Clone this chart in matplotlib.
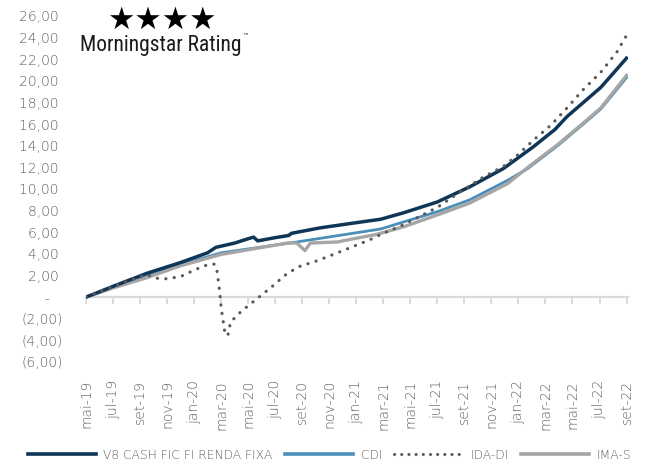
import matplotlib
matplotlib.use("Agg")
import matplotlib.pyplot as plt
from matplotlib import font_manager
from matplotlib.lines import Line2D

# ---- data (x = months since mai-19) ----
tick_labels = ["mai-19", "jul-19", "set-19", "nov-19", "jan-20", "mar-20", "mai-20",
               "jul-20", "set-20", "nov-20", "jan-21", "mar-21", "mai-21", "jul-21",
               "set-21", "nov-21", "jan-22", "mar-22", "mai-22", "jul-22", "set-22"]
tick_pos = [0, 2, 4, 6, 8, 10, 12, 14, 16, 18, 20, 22, 24, 26, 28, 30, 32, 34, 36, 38, 40]

v8_x = [0, 2, 4.5, 7, 9, 9.6, 10.3, 11, 12, 12.4, 12.7, 14, 15, 15.2, 17.3, 19.8,
        21.8, 23.5, 26, 28.4, 30.9, 33.1, 34.7, 35.6, 38.1, 40]
v8_y = [0, 1.0, 2.2, 3.2, 4.1, 4.6, 4.8, 5.0, 5.4, 5.55, 5.2, 5.5, 5.7, 5.9, 6.4, 6.85,
        7.2, 7.8, 8.8, 10.2, 11.9, 13.9, 15.5, 16.7, 19.4, 22.1]

cdi_x = [0, 2, 4.5, 7, 10, 15.6, 21.8, 23.5, 26, 28.4, 31.2, 32.7, 34.9, 36.8, 38.1, 40]
cdi_y = [0, 0.9, 1.9, 3.0, 4.1, 5.1, 6.3, 6.95, 7.9, 9.0, 10.8, 11.9, 14.0, 16.0, 17.4, 20.3]

ida_x = [0, 2, 4.5, 5, 5.5, 6, 7, 8, 9, 9.5, 9.65, 9.8, 9.9, 10.0, 10.3, 10.5, 10.7,
         11.5, 12.7, 13.7, 14.7, 15.7, 17.2, 19, 21, 22, 23.5, 26, 27.9, 29.4, 30.9,
         31.9, 33.1, 34.4, 35.6, 36.8, 38.1, 39.3, 40]
ida_y = [0, 1.0, 2.1, 1.8, 1.7, 1.7, 1.9, 2.5, 3.0, 3.05, 2.8, 1.4, 0.4, -1.0, -3.5, -3.5,
         -2.3, -1.3, -0.1, 0.9, 2.0, 2.8, 3.4, 4.3, 5.3, 5.9, 6.7, 8.3, 9.9, 11.1, 12.1,
         13.1, 14.5, 15.9, 17.5, 19.2, 20.8, 22.7, 24.2]

imas_x = [0, 2, 4.5, 7, 10, 14.9, 15.6, 16.2, 16.6, 18.6, 19.8, 21.5, 23.5, 26, 28.4,
          31.2, 32.7, 34.9, 36.8, 38.1, 40]
imas_y = [0, 0.85, 1.8, 2.9, 3.95, 5.0, 5.0, 4.3, 5.0, 5.1, 5.4, 5.8, 6.5, 7.6, 8.7,
          10.5, 12.0, 14.1, 16.1, 17.5, 20.5]

series_names = ["V8 CASH FIC FI RENDA FIXA", "CDI", "IDA-DI", "IMA-S"]
y_ticks = [-6, -4, -2, 0, 2, 4, 6, 8, 10, 12, 14, 16, 18, 20, 22, 24, 26]

# ---- style ----
C_V8 = "#0f3557"
C_CDI = "#4a8fb8"
C_IDA = "#5a5a5a"
C_IMAS = "#a6a6a6"

plt.rcParams["font.family"] = ["DejaVu Sans"]

BAD = ("bold", "semi", "black", "medium", "thin", "italic", "heavy", "oblique")


def _wnum(w):
    if isinstance(w, (int, float)):
        return w
    return font_manager.weight_dict.get(str(w).lower(), 400)


def find_face(names, want_cond, lo, hi):
    for nm in names:
        for f in font_manager.fontManager.ttflist:
            low = (f.name + " " + f.fname).lower()
            is_cond = ("condensed" in low or "narrow" in low
                       or "condensed" in str(f.stretch).lower())
            if f.style != "normal" or any(b in low for b in BAD):
                continue
            if nm and nm.lower() not in f.name.lower():
                continue
            if "mono" in low or "serif" in low:
                continue
            if is_cond != want_cond:
                continue
            if lo <= _wnum(f.weight) <= hi:
                return f.fname
    return None


light_file = find_face(["DejaVu Sans"], False, 100, 340)
TXT = "#5e5e5e" if light_file else "#7f7f7f"
cond_file = find_face(["Liberation Sans Narrow", "Roboto", "Open Sans", "DejaVu", ""],
                      True, 350, 450)


def lfp(size):
    if light_file:
        return font_manager.FontProperties(fname=light_file, size=size)
    return font_manager.FontProperties(family="DejaVu Sans", size=size)


def yfmt(v):
    if abs(v) < 1e-9:
        return "-   "
    s = f"{abs(v):.2f}".replace(".", ",")
    return f"({s})" if v < 0 else s + " "


fig = plt.figure(figsize=(6.52, 4.66), dpi=100)
ax = fig.add_axes([0.132, 0.2232, 0.831, 0.7425])

ax.plot(v8_x, v8_y, color=C_V8, lw=2.5, solid_joinstyle="round", zorder=4)
ax.plot(cdi_x, cdi_y, color=C_CDI, lw=2.0, zorder=3)
ax.plot(imas_x, imas_y, color=C_IMAS, lw=2.4, zorder=3.5)
ax.plot(ida_x, ida_y, color=C_IDA, lw=2.3, linestyle=(0, (0.05, 2.6)),
        dash_capstyle="round", zorder=5)

ax.set_xlim(0, 40.1)
ax.set_ylim(-6, 26)

for s in ["top", "right", "left"]:
    ax.spines[s].set_visible(False)
ax.spines["bottom"].set_position(("data", 0))
ax.spines["bottom"].set_color("#d9d9d9")
ax.spines["bottom"].set_linewidth(1.6)
ax.spines["bottom"].set_zorder(1)

ax.set_xticks(tick_pos)
ax.tick_params(axis="x", direction="out", length=5, width=1.3, color="#d9d9d9",
               labelbottom=False)

ax.set_yticks(y_ticks)
ax.set_yticklabels([yfmt(v) for v in y_ticks], fontproperties=lfp(10),
                   color=TXT, ha="right")
ax.tick_params(axis="y", length=0, pad=16.5)

sec = ax.secondary_xaxis(0)
sec.set_xticks(tick_pos)
sec.set_xticklabels(tick_labels, rotation=90, fontproperties=lfp(10), color=TXT)
sec.tick_params(axis="x", length=0, pad=13)
sec.spines["bottom"].set_visible(False)

handles = [
    Line2D([], [], color=C_V8, lw=2.6),
    Line2D([], [], color=C_CDI, lw=2.6),
    Line2D([], [], color=C_IDA, lw=2.2, linestyle=(0, (0.05, 2.3)), dash_capstyle="round"),
    Line2D([], [], color=C_IMAS, lw=2.6),
]
leg = fig.legend(handles, series_names, loc="lower center", ncol=4, frameon=False,
                 bbox_to_anchor=(0.505, -0.012), handlelength=5.6, handletextpad=0.6,
                 columnspacing=1.0, prop=lfp(8.8))
for t in leg.get_texts():
    t.set_color(TXT)

# Morningstar rating badge
fig.text(0.248, 0.957, "\u2605\u2605\u2605\u2605", fontsize=22, color="black",
         ha="center", va="center", family="DejaVu Sans")
if cond_file is not None:
    fp = font_manager.FontProperties(fname=cond_file, size=15.5)
else:
    fp = font_manager.FontProperties(family="Roboto", size=12.5)
cap = fig.text(0.122, 0.902, "Morningstar Rating", color="#1a1a1a",
               ha="left", va="center", fontproperties=fp)
fig.canvas.draw()
bb = cap.get_window_extent(renderer=fig.canvas.get_renderer())
tm_x = (bb.x1 + 1.5) / fig.bbox.width
fig.text(tm_x, 0.922, "\u2122", fontsize=4.5, color="#1a1a1a", ha="left", va="center",
         family="DejaVu Sans")

fig.savefig("out.png", dpi=100)
